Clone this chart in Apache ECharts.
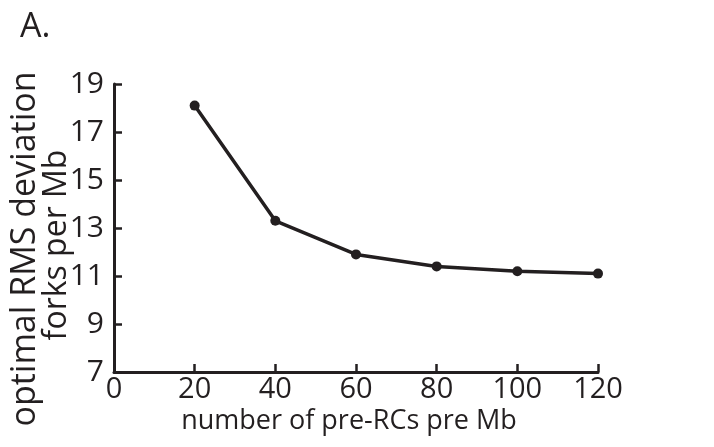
<!DOCTYPE html>
<html>
<head>
<meta charset="utf-8">
<script src="https://cdn.jsdelivr.net/npm/echarts@6/dist/echarts.min.js"></script>
<style>
html,body{margin:0;padding:0;background:#fff;}
#chart{width:714px;height:447px;}
</style>
</head>
<body>
<div id="chart"></div>
<script>
var preRCs = [20, 40, 60, 80, 100, 120];
var rmsDeviation = [18.1, 13.3, 11.9, 11.4, 11.2, 11.1];
var yTicks = [7, 9, 11, 13, 15, 17, 19];
var xTicks = [0, 20, 40, 60, 80, 100, 120];

var FONT = '"Open Sans", sans-serif';
var INK = '#231f20';

var chart = echarts.init(document.getElementById('chart'));
chart.setOption({
  animation: false,
  backgroundColor: '#fff',
  grid: { left: 114, right: 116, top: 84, bottom: 75 },
  xAxis: {
    type: 'value', min: xTicks[0], max: xTicks[xTicks.length - 1], interval: 20,
    axisLine: { lineStyle: { color: INK, width: 3 } },
    axisTick: { inside: true, length: 8, lineStyle: { color: INK, width: 2.5 } },
    axisLabel: { color: INK, fontSize: 29, fontFamily: FONT, margin: 3 },
    splitLine: { show: false }
  },
  yAxis: {
    type: 'value', min: yTicks[0], max: yTicks[yTicks.length - 1], interval: 2,
    axisLine: { show: true, lineStyle: { color: INK, width: 3 } },
    axisTick: { show: true, inside: true, length: 8, lineStyle: { color: INK, width: 2.5 } },
    axisLabel: { color: INK, fontSize: 30, fontFamily: FONT, margin: 10 },
    splitLine: { show: false }
  },
  graphic: [
    { type: 'text', left: 20, top: 10, style: { text: 'A.', font: '34px ' + FONT, fill: INK } },
    { type: 'text', x: 349, y: 421, style: { text: 'number of pre-RCs pre Mb', font: '27px ' + FONT, fill: INK, align: 'center', verticalAlign: 'middle' } },
    { type: 'text', x: 25, y: 249, rotation: Math.PI / 2, style: { text: 'optimal RMS deviation', font: '34px ' + FONT, fill: INK, align: 'center', verticalAlign: 'middle' } },
    { type: 'text', x: 57, y: 245, rotation: Math.PI / 2, style: { text: 'forks per Mb', font: '32px ' + FONT, fill: INK, align: 'center', verticalAlign: 'middle' } }
  ],
  series: [{
    type: 'line',
    data: preRCs.map(function (x, i) { return [x, rmsDeviation[i]]; }),
    symbol: 'circle', symbolSize: 10,
    itemStyle: { color: INK },
    lineStyle: { color: INK, width: 3.5 }
  }]
});
</script>
</body>
</html>
